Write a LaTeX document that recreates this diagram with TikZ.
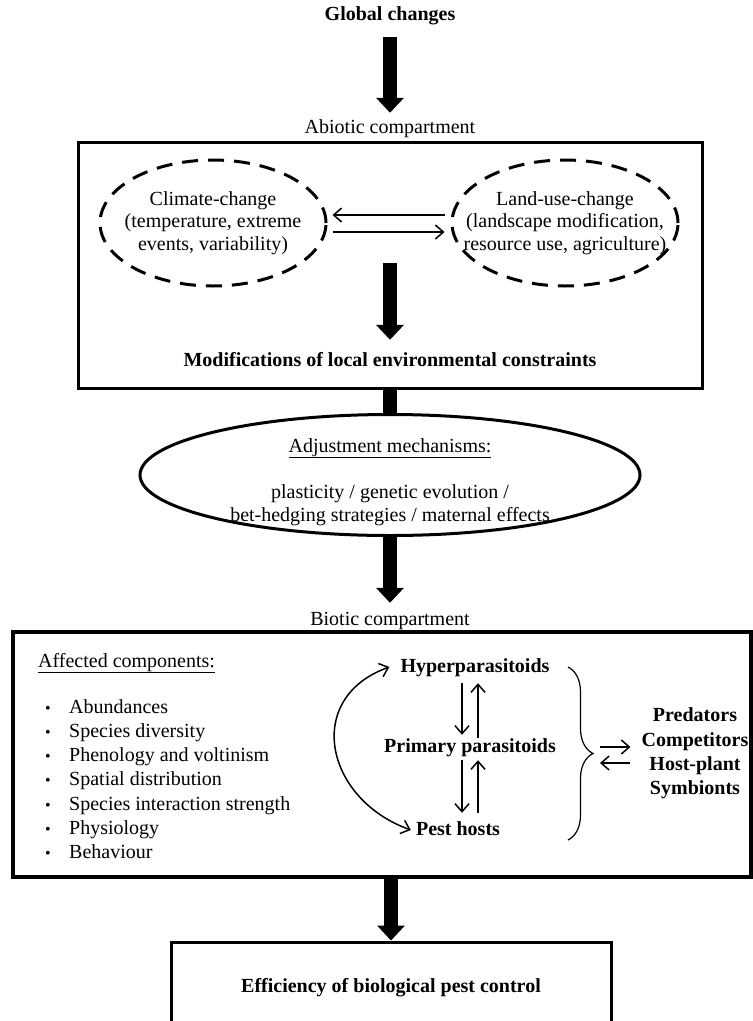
\documentclass[tikz,border=0pt]{standalone}
\usepackage{fontspec}
\setmainfont{Liberation Serif}
\usetikzlibrary{arrows.meta,shapes.geometric,decorations.pathreplacing}

\begin{document}
\begin{tikzpicture}[
        x=1pt, y=-1pt,
        every node/.style={inner sep=0pt, font=\fontsize{20}{22.5}\selectfont},
        lbl/.style={text height=14pt, text depth=4pt},
        bold/.style={font=\fontsize{20}{22.5}\selectfont\bfseries},
        frame/.style={draw, rectangle, line width=3pt},
        cloud/.style={draw, ellipse, line width=3pt, dash pattern=on 16pt off 10pt,
            minimum width=226pt, minimum height=126pt},
        bigarrow/.style={line width=14pt, -{Triangle[width=27pt,length=15pt]}},
        thinarrow/.style={line width=1.5pt, -{Straight Barb[length=8pt,width=14pt]}},
        twoarrow/.style={line width=1.5pt,
            {Straight Barb[length=8pt,width=14pt]}-{Straight Barb[length=8pt,width=14pt]}}
        ]
        \useasboundingbox (0,0) rectangle (753,1021);

        % abiotic part
        \node [bold, lbl] (gc) at (390,15) {Global changes};
        \node [lbl] (abl) at (390,128) {Abiotic compartment};
        \node [frame, minimum width=624pt, minimum height=246pt] (abox) at (390,265) {};
        \node [cloud] (cc) at (213,223) {};
        \node [cloud] (lu) at (565,223) {};
        \node [align=center] (cct) at (cc) {Climate-change\\(temperature, extreme\\events, variability)};
        \node [align=center] (lut) at (lu) {Land-use-change\\(landscape modification,\\resource use, agriculture)};
        \node [bold, lbl] (mod) at (390,361) {Modifications of local environmental constraints};
        \coordinate (mid) at (390,263);

        \draw [bigarrow, shorten <=13pt, shorten >=6pt] (gc.south) -- (abl.north);
        \draw [thinarrow] ([xshift=-6pt,yshift=8pt]lu.west) -- ([xshift=5pt,yshift=8pt]cc.east);
        \draw [thinarrow] ([xshift=5pt,yshift=-9pt]cc.east) -- ([xshift=-6pt,yshift=-9pt]lu.west);
        \draw [bigarrow] (mid) -- ([yshift=12pt]mod.north);

        % adjustment
        \node [draw, ellipse, line width=3pt, minimum width=500pt, minimum height=121pt] (adj) at (390,475) {};
        \node [lbl] (adjt) at (390,447) {\underline{Adjustment mechanisms:}};
        \node [lbl] (adj1) at (390,493) {plasticity / genetic evolution /};
        \node [lbl] (adj2) at (390,516) {bet-hedging strategies / maternal effects};
        \draw [line width=14pt] (abox.south) -- (adj.north);

        % biotic part
        \node [lbl] (bl) at (390,620) {Biotic compartment};
        \node [frame, line width=3.5pt, minimum width=738pt, minimum height=245pt] (bbox) at (382,754.5) {};
        \draw [bigarrow] (adj.south) -- ([yshift=8pt]bl.north);

        \node [lbl, anchor=west] (aff) at (38,662) {\underline{Affected components:}};
        \foreach \t [count=\i from 0] in {Abundances, Species diversity, Phenology and voltinism,
                Spatial distribution, Species interaction strength, Physiology, Behaviour} {
            \node [lbl] (b\i) at (48,{708+24.3*\i}) {\fontsize{16}{18}\selectfont\textbullet};
            \node [lbl, anchor=west] (c\i) at (69,{708+24.3*\i}) {\t};
        }

        \node [bold, lbl] (hyp) at (475,667) {Hyperparasitoids};
        \node [bold, lbl] (prim) at (470,747) {Primary parasitoids};
        \node [bold, lbl] (pest) at (458,830) {Pest hosts};
        \node [align=center, font=\fontsize{20}{24.3}\selectfont\bfseries] (others) at (695,753.5)
            {Predators\\Competitors\\Host-plant\\Symbionts};

        \draw [thinarrow, shorten <=7pt, shorten >=3pt] ([xshift=-13pt]hyp.south) -- ([xshift=-8pt]prim.north);
        \draw [thinarrow, shorten >=7pt] ([xshift=8pt]prim.north) -- ([xshift=3pt]hyp.south);
        \draw [thinarrow, shorten <=4pt, shorten >=8pt] ([xshift=-8pt]prim.south) -- ([xshift=4pt]pest.north);
        \draw [thinarrow, shorten <=8pt, shorten >=4pt] ([xshift=20pt]pest.north) -- ([xshift=8pt]prim.south);
        \draw [twoarrow] ([xshift=-11pt]hyp.west) .. controls +(-86,31) and +(-86,-31) .. ([xshift=-5pt]pest.west);

        \coordinate (br1) at (568,667);
        \coordinate (br2) at (568,840);
        \draw [line width=1.2pt, decorate, decoration={brace, amplitude=25pt}] (br1) -- (br2);
        \coordinate (tipa) at (600,747);
        \coordinate (tipb) at (600,763);
        \draw [thinarrow, shorten >=11pt] (tipa) -- (tipa -| others.west);
        \draw [thinarrow, shorten <=11pt] (tipb -| others.west) -- (tipb);

        % result
        \node [frame, minimum width=440pt, minimum height=176pt] (ebox) at (391,1030) {};
        \node [bold, lbl] (eff) at (391,987) {Efficiency of biological pest control};
        \draw [bigarrow] (ebox.north |- bbox.south) -- (ebox.north);
    \end{tikzpicture}
\end{document}
